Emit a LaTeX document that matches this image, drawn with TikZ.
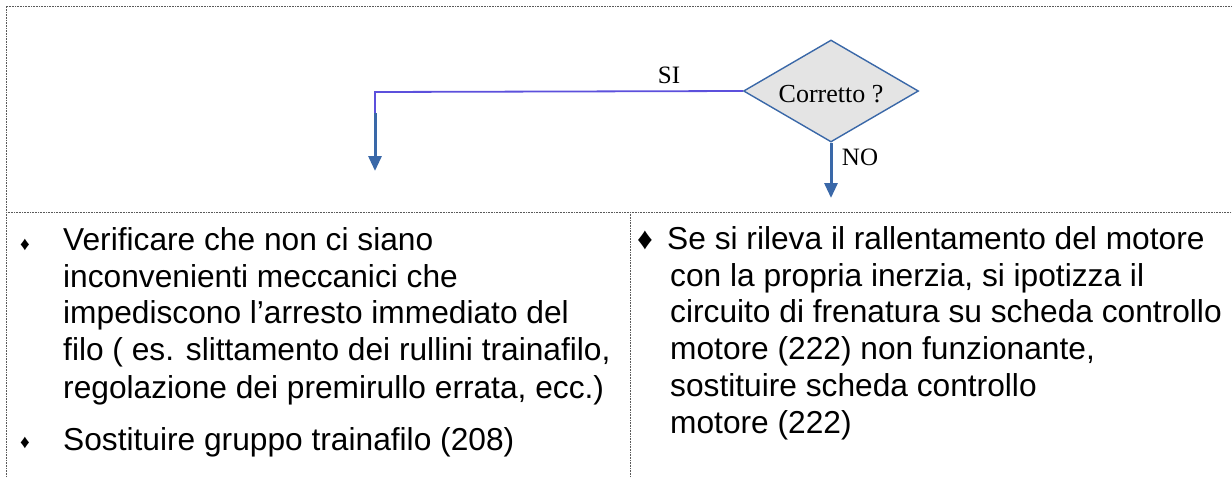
\documentclass[tikz,border=0pt]{standalone}
\usepackage{fontspec}
\setmainfont{Liberation Serif}
\newfontfamily\arialf{Liberation Sans}
\usetikzlibrary{shapes.geometric,arrows.meta}
\definecolor{arrblue}{RGB}{58,104,168}
\definecolor{linepurple}{RGB}{92,80,220}
\definecolor{dgray}{RGB}{228,228,228}
\definecolor{bordergray}{RGB}{90,90,90}
\begin{document}
\begin{tikzpicture}[x=1pt,y=-1pt,
  border/.style={draw=bordergray, line width=0.9pt, dash pattern=on 1pt off 0.6pt},
  decision/.style={shape=diamond, draw=arrblue, line width=1.4pt, fill=dgray,
    minimum width=175pt, minimum height=102pt, inner sep=0pt, aspect=1.7,
    font=\fontsize{26}{28}\selectfont},
  flowlabel/.style={inner sep=0pt, anchor=base, font=\fontsize{25}{27}\selectfont},
  leftline/.style={inner sep=0pt, anchor=base west, font=\arialf\fontsize{31.7}{36}\selectfont},
  rightline/.style={inner sep=0pt, anchor=base west, font=\arialf\fontsize{31.7}{36}\selectfont},
  lbullet/.style={inner sep=0pt, anchor=base, font=\arialf\fontsize{19}{22}\selectfont},
  rbullet/.style={inner sep=0pt, anchor=base, font=\arialf\fontsize{31}{34}\selectfont},
  bluearrow/.style={draw=arrblue, line width=3pt, -{Triangle[width=13pt,length=15pt]}},
  yesline/.style={draw=linepurple, line width=1.8pt}
]
\useasboundingbox (0,0) rectangle (1232,477);
% table borders
\draw[border] (6,477) -- (6,6) -- (1232,6);
\draw[border] (6,212) -- (1232,212);
\draw[border] (630,212) -- (630,477);

% flowchart
\node[decision] (dec) at (831,91) {};
\node[inner sep=0pt, anchor=base, font=\fontsize{26}{28}\selectfont] (dectext) at (831,102) {Corretto ?};
\coordinate (corner) at (375,92);
\coordinate (siend) at (375,113);
\coordinate (sitip) at (375,171);
\coordinate (notip) at (831,198);
\draw[yesline] (dec.west) -- (corner) -- (siend);
\draw[bluearrow] (siend) -- (sitip);
\draw[bluearrow] (dec.south) -- (notip);
\node[flowlabel] (si) at (669,83) {SI};
\node[flowlabel] (no) at (860,165) {NO};

% left column
\node[lbullet] (bl1) at (25,250) {♦};
\node[leftline] (l1) at (63,250) {Verificare che non ci siano};
\node[leftline] (l2) at (63,287) {inconvenienti meccanici che};
\node[leftline] (l3) at (63,323.5) {impediscono l’arresto immediato del};
\node[leftline] (l4) at (63,360.5) {filo ( es. slittamento dei rullini trainafilo,};
\node[leftline] (l5) at (63,398) {regolazione dei premirullo errata, ecc.)};
\node[lbullet] (bl2) at (25,448) {♦};
\node[leftline] (l6) at (63,450) {Sostituire gruppo trainafilo (208)};

% right column
\node[rbullet] (br1) at (645,249) {♦};
\node[rightline] (r1) at (667,249) {Se si rileva il rallentamento del motore};
\node[rightline] (r2) at (670,286) {con la propria inerzia, si ipotizza il};
\node[rightline] (r3) at (670,322.5) {circuito di frenatura su scheda controllo};
\node[rightline] (r4) at (670,359) {motore (222) non funzionante,};
\node[rightline] (r5) at (670,396) {sostituire scheda controllo};
\node[rightline] (r6) at (670,433) {motore (222)};
\end{tikzpicture}
\end{document}
